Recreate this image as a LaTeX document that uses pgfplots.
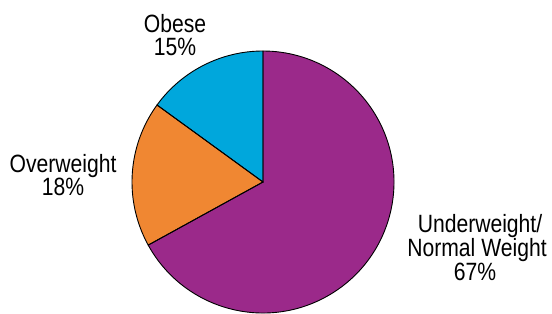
\documentclass[border=0pt]{standalone}
\usepackage{pgfplots}
\pgfplotsset{compat=1.18}
\usepackage{fontspec}
\setmainfont{Liberation Sans}[FakeStretch=0.845]
\definecolor{cUnder}{RGB}{155,41,138}
\definecolor{cOver}{RGB}{240,135,50}
\definecolor{cObese}{RGB}{0,167,220}
\begin{document}
\begin{tikzpicture}[lbl/.style={anchor=base,inner sep=0pt,font=\fontsize{25bp}{23bp}\selectfont}]
\useasboundingbox (0,0) rectangle (552bp,314bp);
% data: percentages
\def\pObese{15}
\def\pOver{18}
\def\pUnder{67}
\pgfmathsetmacro\aA{90}
\pgfmathsetmacro\aB{\aA+\pObese*3.6}
\pgfmathsetmacro\aC{\aB+\pOver*3.6}
\pgfmathsetmacro\aD{\aC+\pUnder*3.6}
\begin{axis}[x=1bp,y=1bp,xmin=0,xmax=552,ymin=0,ymax=314,hide axis,clip=false,
  at={(0,0)},anchor=south west]
\fill[cObese] (axis cs:263,132) -- ++(\aA:131bp) arc[start angle=\aA,end angle=\aB,radius=131bp] -- cycle;
\fill[cOver] (axis cs:263,132) -- ++(\aB:131bp) arc[start angle=\aB,end angle=\aC,radius=131bp] -- cycle;
\fill[cUnder] (axis cs:263,132) -- ++(\aC:131bp) arc[start angle=\aC,end angle=\aD,radius=131bp] -- cycle;
\draw[black,line width=0.9bp] (axis cs:263,132) -- ++(\aA:131bp) arc[start angle=\aA,end angle=\aB,radius=131bp] -- cycle;
\draw[black,line width=0.9bp] (axis cs:263,132) -- ++(\aB:131bp) arc[start angle=\aB,end angle=\aC,radius=131bp] -- cycle;
\draw[black,line width=0.9bp] (axis cs:263,132) -- ++(\aC:131bp) arc[start angle=\aC,end angle=\aD,radius=131bp] -- cycle;
\node[lbl] at (axis cs:175,282) {Obese};
\node[lbl] at (axis cs:175,259) {15\%};
\node[lbl] at (axis cs:63,142) {Overweight};
\node[lbl] at (axis cs:63,119) {18\%};
\node[lbl] at (axis cs:480,82) {Underweight/};
\node[lbl] at (axis cs:477,58) {Normal Weight};
\node[lbl] at (axis cs:475,34) {67\%};
\end{axis}
\end{tikzpicture}
\end{document}
